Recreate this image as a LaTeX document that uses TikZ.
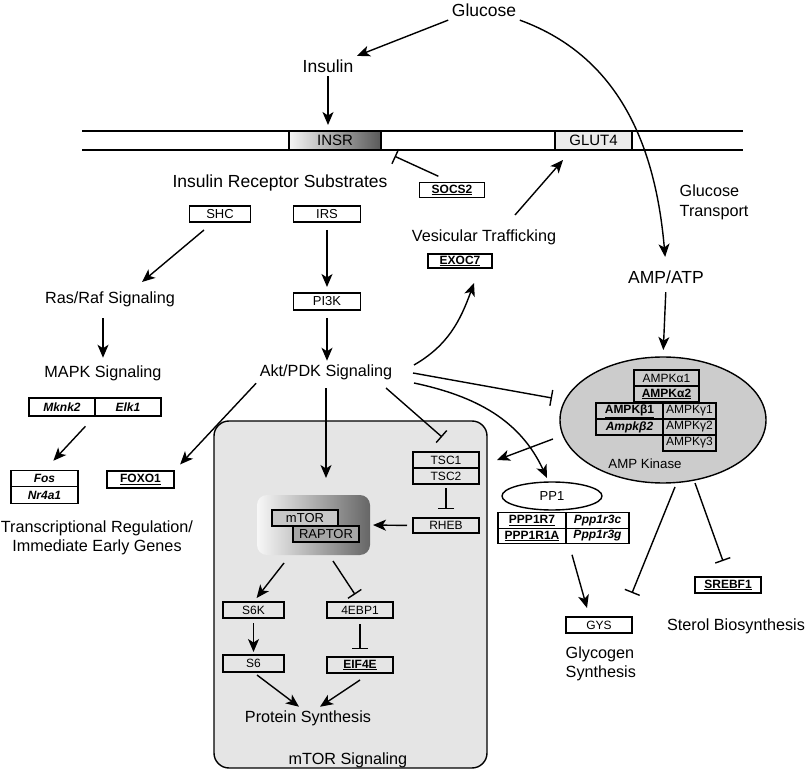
\documentclass[tikz,border=0pt]{standalone}
\usepackage{fontspec}
\setmainfont{Liberation Sans}
\usetikzlibrary{positioning, arrows.meta, shapes.geometric}

\newcommand{\bigfont}{\fontsize{17.5}{20}\selectfont}
\newcommand{\lblfont}{\fontsize{16.2}{19.5}\selectfont}
\newcommand{\boxfont}{\fontsize{12}{14}\selectfont}
\newcommand{\midfont}{\fontsize{13}{15}\selectfont}
\newcommand{\ugene}[1]{\textbf{\underline{#1}}}
\newcommand{\igene}[1]{\textbf{\textit{#1}}}

\begin{document}
\begin{tikzpicture}[x=1pt, y=1pt, line width=1.4pt,
    -{Stealth[length=13pt, width=11pt, inset=3.5pt]},
    gene/.style={draw, rectangle, inner sep=0pt, outer sep=0pt, minimum width=66pt, minimum height=16pt, font=\boxfont},
    lbl/.style={inner sep=3pt, font=\lblfont},
    big/.style={inner sep=3pt, font=\bigfont},
    inh/.style={-{Bar[width=16pt]}}]
    \useasboundingbox (0,0) rectangle (807,-778);
    \draw[-, line width=1.1pt] (82,-131) -- (743,-131) (82,-150) -- (743,-150);

    \node[big] (glucose) at (484,-10) {Glucose};
    \node[big] (insulin) at (328,-66) {Insulin};
    \node[gene, minimum width=92pt, minimum height=19pt, left color=black!4, right color=black!65, font=\fontsize{15}{17}\selectfont] (insr) at (335,-140.5) {INSR};
    \node[gene, minimum width=77pt, minimum height=19pt, fill=black!8, font=\fontsize{15}{17}\selectfont] (glut4) at (593.5,-140.5) {GLUT4};
    \node[big] (irsub) at (280,-183) {Insulin Receptor Substrates};
    \node[gene, minimum width=65pt, minimum height=15pt] (socs2) at (452,-190) {\ugene{SOCS2}};
    \node[gene, minimum width=61pt, font=\midfont] (shc) at (220,-214) {SHC};
    \node[gene, minimum width=67pt, font=\midfont] (irs) at (327,-214) {IRS};
    \node[gene, minimum width=67pt, minimum height=17pt, font=\midfont] (pi3k) at (327,-301.5) {PI3K};
    \node[lbl] (rasraf) at (110,-299) {Ras/Raf Signaling};
    \node[lbl] (mapk) at (103,-373) {MAPK Signaling};
    \node[lbl] (akt) at (326,-372) {Akt/PDK Signaling};
    \node[gene, minimum height=18pt] (mknk2) at (62,-407) {\igene{Mknk2}};
    \node[gene, minimum height=18pt, right=0pt of mknk2] (elk1) {\igene{Elk1}};
    \node[gene, minimum width=67pt, minimum height=16.5pt] (fos) at (44.5,-478.5) {\igene{Fos}};
    \node[gene, minimum width=67pt, minimum height=16.5pt, below=0pt of fos] (nr4a1) {\igene{Nr4a1}};
    \node[gene, minimum width=67pt, minimum height=17pt] (foxo1) at (140.5,-479.5) {\ugene{FOXO1}};
    \node[lbl, align=center] (transreg) at (97,-538) {Transcriptional Regulation/\\Immediate Early Genes};
    \node[lbl] (vesic) at (484,-237) {Vesicular Trafficking};
    \node[gene, minimum width=64pt, minimum height=14pt] (exoc7) at (460,-261) {\ugene{EXOC7}};
    \node[lbl, align=left, anchor=west] (gluctr) at (676,-202.5) {Glucose\\Transport};
    \node[big] (ampatp) at (666,-277) {AMP/ATP};

    \node[ellipse, draw, fill=black!20, minimum width=206pt, minimum height=126pt, inner sep=0pt, outer sep=0pt] (ampk) at (663,-420) {};
    \node[gene, minimum width=65pt] (ampka1) at (666.5,-378) {AMPKα1};
    \node[gene, minimum width=65pt, below=0pt of ampka1] (ampka2) {\ugene{AMPKα2}};
    \node[gene, minimum width=67pt] (ampkb1) at (629.5,-411) {\ugene{AMPKβ1}};
    \node[gene, minimum width=67pt, below=0pt of ampkb1] (ampkb2) {\igene{Ampkβ2}};
    \node[gene, minimum width=53pt, right=0pt of ampkb1] (ampkg1) {AMPKγ1};
    \node[gene, minimum width=53pt, below=0pt of ampkg1] (ampkg2) {AMPKγ2};
    \node[gene, minimum width=53pt, below=0pt of ampkg2] (ampkg3) {AMPKγ3};
    \node[inner sep=3pt, font=\fontsize{13.3}{15}\selectfont] (ampklbl) at (645,-464) {AMP Kinase};

    \node[draw, rounded corners=15pt, fill=black!10, minimum width=273pt, minimum height=347pt, inner sep=0pt, outer sep=0pt] (mtorpanel) at (350.5,-594.5) {};
    \node[gene] (tsc1) at (446,-460) {TSC1};
    \node[gene, below=0pt of tsc1] (tsc2) {TSC2};
    \node[gene, minimum height=15pt] (rheb) at (446,-525.5) {RHEB};
    \node[rounded corners=10pt, left color=black!3, right color=black!60, minimum width=113pt, minimum height=60pt, inner sep=0pt, outer sep=0pt] (mtorcx) at (313.5,-525) {};
    \node[gene, fill=black!22, font=\midfont] (mtor) at (305,-518) {mTOR};
    \node[gene, fill=black!35, font=\midfont] (raptor) at (326,-534) {RAPTOR};
    \node[gene, minimum width=61pt] (s6k) at (253.5,-610) {S6K};
    \node[gene] (eebp1) at (360,-610) {4EBP1};
    \node[gene, minimum width=61pt, minimum height=17pt] (s6) at (253.5,-663.5) {S6};
    \node[gene] (eif4e) at (360,-665) {\ugene{EIF4E}};
    \node[lbl] (protsyn) at (308,-718) {Protein Synthesis};
    \node[lbl] (mtorsig) at (348,-760) {mTOR Signaling};

    \node[ellipse, draw, minimum width=100pt, minimum height=28pt, inner sep=0pt, font=\midfont] (pp1) at (552,-496) {PP1};
    \node[gene, minimum width=68pt, minimum height=15.5pt] (ppp1r7) at (532,-520.5) {\ugene{PPP1R7}};
    \node[gene, minimum width=63pt, minimum height=15.5pt, right=0pt of ppp1r7] (ppp1r3c) {\igene{Ppp1r3c}};
    \node[gene, minimum width=68pt, minimum height=15.5pt, below=0pt of ppp1r7] (ppp1r1a) {\ugene{PPP1R1A}};
    \node[gene, minimum width=63pt, minimum height=15.5pt, below=0pt of ppp1r3c] (ppp1r3g) {\igene{Ppp1r3g}};
    \node[gene] (gys) at (599,-625) {GYS};
    \node[lbl, align=left, anchor=west] (glycsyn) at (562,-664) {Glycogen\\Synthesis};
    \node[gene] (srebf1) at (728,-585) {\ugene{SREBF1}};
    \node[lbl] (sterol) at (736,-626) {Sterol Biosynthesis};

    \path (glucose.south west) edge (insulin.north east);
    \path (insulin.south) edge[shorten >=6pt] (insulin.south |- insr.north);
    \path (glucose.south east) edge[out=-20, in=95, shorten >=10pt] (ampatp.north);
    \path (socs2.north) edge[inh, shorten <=15pt, shorten >=15pt] (insr.south east);
    \path ([shift={(31,22)}]vesic.center) edge ([shift={(-30.5,-19.5)}]glut4.center);
    \path ([shift={(-16,-16)}]shc.center) edge ([shift={(32,17)}]rasraf.center);
    \path (irs.south) edge[shorten <=8pt, shorten >=6pt] (pi3k.north);
    \path (mapk.north |- rasraf.south) edge[shorten <=8pt, shorten >=4pt] (mapk.north);
    \path (pi3k.south) edge[shorten <=8pt] (pi3k.south |- akt.north);
    \path (mknk2.south east) edge[shorten <=14pt, shorten >=13pt] (fos.north);
    \path (akt.south west) edge[shorten >=9pt] (foxo1.north east);
    \path (akt.south) edge[shorten <=5pt, shorten >=17pt] (akt.south |- mtorcx.north);
    \path ([shift={(60,-16)}]akt.center) edge[inh] ([shift={(-4,23)}]tsc1.center);
    \path ([shift={(88,7)}]akt.center) edge[out=30, in=-110] ([shift={(14,-22)}]exoc7.center);
    \path ([shift={(87,-1)}]akt.center) edge[inh] ([shift={(-111,22)}]ampk.center);
    \path ([shift={(88,-11)}]akt.center) edge[out=-12, in=115] ([shift={(-5,18)}]pp1.center);
    \path ([shift={(-110,-19)}]ampk.center) edge ([xshift=18pt]tsc1.east);
    \path (ampatp.south) edge[shorten <=5pt, shorten >=7pt] (ampk.north);
    \path (tsc2.south) edge[inh, shorten <=4pt, shorten >=9pt] (rheb.north);
    \path (rheb.west) edge[shorten <=6pt, shorten >=3pt] (mtorcx.east);
    \path ([shift={(-29.5,-38)}]mtorcx.center) edge[shorten >=5pt] (s6k.north);
    \path ([shift={(19.5,-36)}]mtorcx.center) edge[inh, shorten >=9pt] (eebp1.north);
    \path (s6k.south) edge[shorten <=5pt, shorten >=3pt] (s6.north);
    \path (eebp1.south) edge[inh, shorten <=6pt, shorten >=8pt] (eif4e.north);
    \path ([shift={(3.5,-3)}]s6.south) edge ([xshift=-9pt]protsyn.north);
    \path ([yshift=-7pt]eif4e.south) edge ([xshift=12pt]protsyn.north);
    \path ([shift={(6,-11)}]ppp1r1a.south east) edge ([shift={(-12,9)}]gys.north);
    \path ([shift={(12,-4)}]ampk.south) edge[inh] ([yshift=24pt]gys.north east);
    \path ([shift={(32,0)}]ampk.south) edge[inh] ([shift={(-5,16)}]srebf1.north);
\end{tikzpicture}
\end{document}
